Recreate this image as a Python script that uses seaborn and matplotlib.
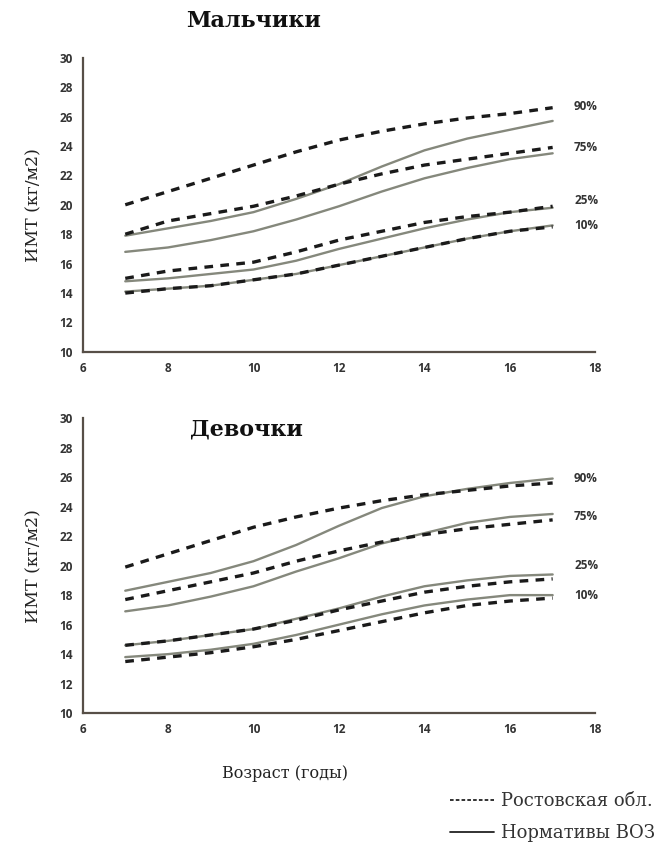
import numpy as np
import pandas as pd
import matplotlib
matplotlib.use("Agg")
import matplotlib.pyplot as plt
from matplotlib.lines import Line2D
import seaborn as sns

ages = [7, 8, 9, 10, 11, 12, 13, 14, 15, 16, 17]
percentiles = ["90%", "75%", "25%", "10%"]

# Boys
boys_rostov_90 = [20.0, 20.9, 21.8, 22.7, 23.6, 24.4, 25.0, 25.5, 25.9, 26.2, 26.6]
boys_rostov_75 = [18.0, 18.9, 19.4, 19.9, 20.6, 21.4, 22.1, 22.7, 23.1, 23.5, 23.9]
boys_rostov_25 = [15.0, 15.5, 15.8, 16.1, 16.8, 17.6, 18.2, 18.8, 19.2, 19.5, 19.9]
boys_rostov_10 = [14.0, 14.3, 14.5, 14.9, 15.3, 15.9, 16.5, 17.1, 17.7, 18.2, 18.5]
boys_who_90 = [17.9, 18.4, 18.9, 19.5, 20.4, 21.4, 22.6, 23.7, 24.5, 25.1, 25.7]
boys_who_75 = [16.8, 17.1, 17.6, 18.2, 19.0, 19.9, 20.9, 21.8, 22.5, 23.1, 23.5]
boys_who_25 = [14.8, 15.0, 15.3, 15.6, 16.2, 17.0, 17.7, 18.4, 19.0, 19.5, 19.8]
boys_who_10 = [14.1, 14.3, 14.5, 14.9, 15.3, 15.9, 16.5, 17.1, 17.7, 18.2, 18.6]

# Girls
girls_rostov_90 = [19.9, 20.8, 21.7, 22.6, 23.3, 23.9, 24.4, 24.8, 25.1, 25.4, 25.6]
girls_rostov_75 = [17.7, 18.3, 18.9, 19.5, 20.3, 21.0, 21.6, 22.1, 22.5, 22.8, 23.1]
girls_rostov_25 = [14.6, 14.9, 15.3, 15.7, 16.3, 17.0, 17.6, 18.2, 18.6, 18.9, 19.1]
girls_rostov_10 = [13.5, 13.8, 14.1, 14.5, 15.0, 15.6, 16.2, 16.8, 17.3, 17.6, 17.8]
girls_who_90 = [18.3, 18.9, 19.5, 20.3, 21.4, 22.7, 23.9, 24.7, 25.2, 25.6, 25.9]
girls_who_75 = [16.9, 17.3, 17.9, 18.6, 19.6, 20.5, 21.5, 22.2, 22.9, 23.3, 23.5]
girls_who_25 = [14.6, 14.9, 15.3, 15.7, 16.4, 17.1, 17.9, 18.6, 19.0, 19.3, 19.4]
girls_who_10 = [13.8, 14.0, 14.3, 14.7, 15.3, 16.0, 16.7, 17.3, 17.7, 18.0, 18.0]

boys_label_y = [26.7, 23.9, 20.3, 18.6]
girls_label_y = [25.9, 23.3, 20.0, 18.0]

x_ticks = [6, 8, 10, 12, 14, 16, 18]
y_ticks = [10, 12, 14, 16, 18, 20, 22, 24, 26, 28, 30]

title_boys = "Мальчики"
title_girls = "Девочки"
y_label = "ИМТ (кг/м2)"
x_label = "Возраст (годы)"
legend_rostov = "Ростовская обл."
legend_who = "Нормативы ВОЗ"

sns.set_theme(style="white")
plt.rcParams["font.family"] = ["DejaVu Sans"]

fig = plt.figure(figsize=(6.55, 8.48), dpi=100)
ax1 = fig.add_axes([0.126, 0.585, 0.783, 0.347])
ax2 = fig.add_axes([0.126, 0.159, 0.783, 0.348])

spine_color = "#574f47"
who_color = "#85887c"
tick_font = dict(family="Open Sans", weight="bold", size=8.5)


def draw(ax, rostov, who, label_y):
    for vals in who:
        sns.lineplot(x=ages, y=vals, ax=ax, color=who_color, linewidth=1.7,
                     linestyle="-")
    for vals in rostov:
        sns.lineplot(x=ages, y=vals, ax=ax, color="#1a1a1a", linewidth=2.4,
                     linestyle=(0, (2.6, 2.2)))
    for lab, yy in zip(percentiles, label_y):
        ax.text(17.5, yy, lab, fontsize=8.5, fontweight="bold",
                family="Open Sans", color="#333333", va="center", ha="left")
    ax.set_xlim(6, 18)
    ax.set_ylim(10, 30)
    ax.set_xticks(x_ticks)
    ax.set_yticks(y_ticks)
    ax.set_xticklabels([str(t) for t in x_ticks], fontdict=tick_font,
                       color="#333333")
    ax.set_yticklabels([str(t) for t in y_ticks], fontdict=tick_font,
                       color="#333333")
    for s in ["top", "right"]:
        ax.spines[s].set_visible(False)
    for s in ["left", "bottom"]:
        ax.spines[s].set_color(spine_color)
        ax.spines[s].set_linewidth(1.6)
    ax.tick_params(axis="both", direction="out", length=4, width=0.8,
                   color="#888888", pad=3)
    ax.set_xlabel("")
    ax.set_ylabel(y_label, family="DejaVu Serif", fontsize=12.5, color="#222222",
                  labelpad=12)
    ax.grid(False)


draw(ax1, [boys_rostov_90, boys_rostov_75, boys_rostov_25, boys_rostov_10],
     [boys_who_90, boys_who_75, boys_who_25, boys_who_10], boys_label_y)
draw(ax2, [girls_rostov_90, girls_rostov_75, girls_rostov_25, girls_rostov_10],
     [girls_who_90, girls_who_75, girls_who_25, girls_who_10], girls_label_y)

fig.text(0.387, 0.975, title_boys, family="DejaVu Serif", fontweight="bold",
         fontsize=16, ha="center", va="center", color="#111111")
ax2.text(0.21, 0.96, title_girls, transform=ax2.transAxes,
         family="DejaVu Serif", fontweight="bold", fontsize=16,
         ha="left", va="center", color="#111111")

fig.text(0.435, 0.088, x_label, family="DejaVu Serif", fontsize=11.5,
         ha="center", va="center", color="#222222")

handles = [Line2D([0], [0], color="#222222", linewidth=1.3, linestyle=(0, (2, 1.2))),
           Line2D([0], [0], color="#222222", linewidth=1.3, linestyle="-")]
leg = fig.legend(handles, [legend_rostov, legend_who], loc="lower right",
                 bbox_to_anchor=(1.025, -0.012), frameon=False, handlelength=2.4,
                 handletextpad=0.4, labelspacing=0.75,
                 prop=dict(family="DejaVu Serif", size=13))
for t in leg.get_texts():
    t.set_color("#333333")

fig.savefig("out.png", dpi=100, facecolor="white")
